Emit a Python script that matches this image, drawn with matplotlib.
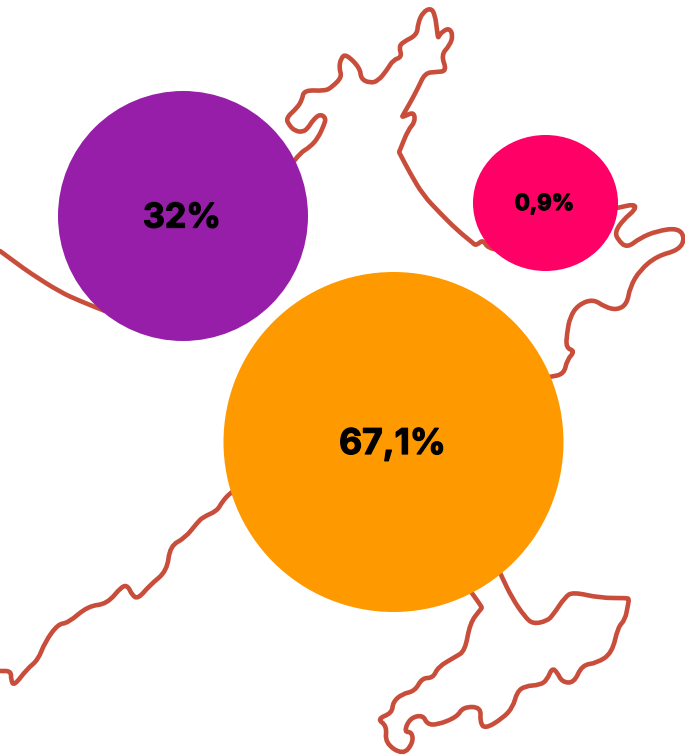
#!/usr/bin/env python
# -*- coding:utf-8 -*-

from matplotlib import patheffects as pe
from matplotlib import pyplot as plt
from matplotlib.patches import Ellipse, PathPatch
from matplotlib.path import Path

# bubble data, pixel units of the picture
labels = ['32%', '0,9%', '67,1%']
center_x = [183, 545.5, 393.5]
center_y = [216, 203, 442]
widths = [250, 145, 340]
heights = [250, 136, 340]
colors = ['#971EA8', '#FF0066', '#FF9900']
label_sizes = [24.5, 16, 25.5]

# map outline
west_coast = [(0, 251), (15, 262), (30, 273), (60, 292), (80, 301), (105, 311)]
north_coast = [(295, 160), (300, 153), (310, 147), (318, 138), (324, 125),
               (326, 118), (320, 114), (313, 120), (308, 128), (303, 132),
               (295, 131), (289, 125), (286, 118), (297, 108), (302, 100),
               (304, 90), (325, 91), (332, 87), (342, 77), (339, 68),
               (341, 58), (346, 54), (360, 68), (361, 79), (370, 83),
               (378, 81), (387, 70), (393, 60), (402, 57), (399, 47),
               (403, 42), (417, 35), (418, 23), (423, 12), (431, 8),
               (435, 15), (437, 30), (438, 38), (439, 36), (442, 32),
               (449, 28), (453, 35), (450, 45), (441, 55), (447, 71),
               (436, 72), (425, 73), (418, 88), (410, 103), (403, 115),
               (402, 117), (405, 116), (414, 112), (415, 122), (408, 130),
               (400, 150), (399, 152), (400, 154), (410, 173), (423, 195),
               (440, 213), (457, 230), (473, 243), (475, 245), (478, 244),
               (483, 240), (488, 248), (500, 250)]
east_coast = [(610, 209), (618, 208), (634, 204), (636, 209), (623, 220),
              (615, 232), (618, 240), (627, 248), (640, 238), (657, 231),
              (678, 228), (685, 238), (679, 250), (657, 256), (640, 270),
              (630, 287), (627, 304), (617, 310), (605, 307), (593, 299),
              (578, 305), (570, 317), (567, 333), (566, 348), (575, 351),
              (567, 360), (564, 374), (550, 377), (540, 378)]
south_west_coast = [(235, 490), (230, 493), (222, 502), (217, 511), (203, 517),
                    (197, 523), (185, 538), (170, 546), (167, 571), (150, 585),
                    (138, 599), (132, 595), (128, 586), (122, 586), (107, 604),
                    (88, 606), (68, 623), (58, 624), (45, 642), (38, 660),
                    (27, 669), (14, 686), (11, 680), (11, 671), (0, 671)]
south_coast = [(468, 588), (472, 593), (481, 606), (482, 608), (480, 610),
               (470, 623), (465, 651), (455, 657), (438, 667), (433, 678),
               (422, 678), (415, 691), (402, 694), (393, 702), (392, 713),
               (377, 719), (387, 726), (385, 743), (403, 755), (413, 743),
               (412, 732), (404, 732), (410, 718), (423, 715), (427, 724),
               (437, 725), (457, 717), (463, 707), (481, 707), (480, 722),
               (485, 729), (503, 718), (513, 707), (517, 692), (525, 686),
               (540, 685), (547, 680), (552, 668), (557, 672), (562, 682),
               (574, 683), (582, 665), (597, 663), (612, 653), (618, 627),
               (625, 620), (628, 605), (629, 599), (627, 598), (600, 598),
               (573, 592), (565, 597), (553, 615), (547, 621), (533, 624),
               (525, 617), (512, 598), (501, 575), (498, 568)]
coast_lines = [west_coast, north_coast, east_coast, south_west_coast,
               south_coast]
coast_color = '#C94D3B'


def rounded_path(line):
    """Path through the midpoints of a polyline, the vertices as controls."""
    verts = [line[0]]
    codes = [Path.MOVETO]
    for i in range(1, len(line) - 1):
        x0, y0 = line[i]
        x1, y1 = line[i + 1]
        verts += [line[i], ((x0 + x1) / 2, (y0 + y1) / 2)]
        codes += [Path.CURVE3, Path.CURVE3]
    verts.append(line[-1])
    codes.append(Path.LINETO)
    return Path(verts, codes)


def plot_map(ax):
    """Draw the outline pieces of the map."""
    for line in coast_lines:
        ax.add_patch(PathPatch(rounded_path(line), facecolor='none',
                               edgecolor=coast_color, linewidth=3.3,
                               joinstyle='round', capstyle='round', zorder=1))


def plot_bubbles(ax):
    """Draw the bubbles and their percentage labels."""
    for i, label in enumerate(labels):
        bubble = Ellipse((center_x[i], center_y[i]), widths[i], heights[i],
                         facecolor=colors[i], edgecolor='none', zorder=2)
        ax.add_patch(bubble)
        text = ax.text(center_x[i] - 1, center_y[i] - 1, label, color='black',
                       fontsize=label_sizes[i], fontweight='bold',
                       family='Inter', ha='center', va='center_baseline',
                       zorder=3)
        # the reference face is heavier than Inter Bold
        text.set_path_effects([pe.withStroke(linewidth=0.9,
                                             foreground='black')])


def main():
    fig = plt.figure(figsize=(6.85, 7.55), dpi=100)
    ax = fig.add_axes([0, 0, 1, 1])
    plot_map(ax)
    plot_bubbles(ax)
    ax.set_xlim(0, 685)
    ax.set_ylim(755, 0)
    ax.axis('off')
    fig.savefig('out.png', dpi=100)


if __name__ == '__main__':
    main()
